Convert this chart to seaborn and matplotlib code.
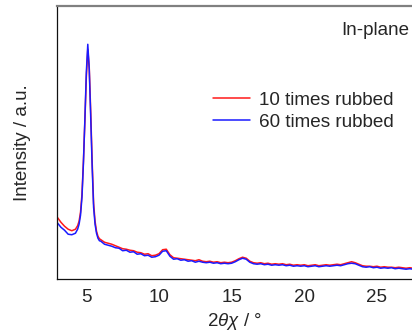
import numpy as np
import pandas as pd
import matplotlib
matplotlib.use("Agg")
import matplotlib.pyplot as plt
import seaborn as sns

# 2theta positions: dense around the main peak, then a regular 0.25 deg grid
two_theta_head = [3.0, 3.25, 3.5, 3.75, 4.0, 4.25, 4.4, 4.5, 4.6, 4.7, 4.8,
                  4.9, 5.0, 5.1, 5.2, 5.3, 5.4, 5.5, 5.6, 5.7, 5.8, 5.9]
two_theta_tail = list(np.arange(6.0, 27.51, 0.25))

rub10_head = [62, 57, 53, 50, 48.5, 50, 53.5, 58, 67, 85, 118,
              158, 202, 230, 212, 168, 118, 76, 58, 48, 43, 40.5]
rub60_head = [56.5, 52, 49, 45, 44.5, 46, 50, 55, 64, 82, 116,
              160, 207, 235, 210, 163, 113, 72, 55, 46, 41, 38.5]

# one row per degree (6 .. 26), then 27.0-27.5
rub10_tail = [39.5, 37, 36, 35,
              33.5, 32, 30.5, 30,
              29, 28.5, 27, 26.5,
              25, 25.5, 23.5, 24,
              25.5, 29.5, 30, 24.5,
              21.5, 21, 20.5, 20,
              19.5, 19, 18.5, 19.5,
              18, 17.5, 18, 17,
              17.5, 16.5, 17, 16.5,
              17, 18.5, 20.5, 22,
              21, 18, 16.5, 16,
              16.5, 15.5, 16, 15,
              15.5, 15, 15.5, 14.5,
              15, 14, 14.5, 14,
              14.5, 13.5, 14, 14.5,
              13.5, 14, 14.5, 14,
              14.5, 15, 14.5, 15.5,
              16.5, 17.5, 16.5, 15,
              13.5, 13, 13, 12.5,
              13, 12, 12.5, 12,
              12, 11.5, 12, 11.5,
              11, 11.5, 11]
rub60_tail = [38, 35, 34, 33,
              31.5, 31, 28.5, 29,
              27, 27.5, 25, 25.5,
              23.5, 24, 22, 22.5,
              24, 28, 28.5, 23,
              20, 20.5, 19, 19.5,
              18, 18.5, 17, 18,
              17, 16.5, 17, 16,
              16.5, 15.5, 16, 15.5,
              16, 17.5, 19.5, 21,
              20, 17, 15.5, 15,
              15.5, 14.5, 15, 14,
              14.5, 14, 14.5, 13.5,
              14, 13, 13.5, 13,
              13.5, 12.5, 13, 13.5,
              12.5, 13, 13.5, 13,
              13.5, 14, 13.5, 14.5,
              15.5, 16, 15.5, 14,
              12.5, 12, 12.5, 11.5,
              12, 11, 11.5, 11,
              11.5, 10.5, 11, 10.5,
              10, 10.5, 10]

series_labels = ["10 times rubbed", "60 times rubbed"]
series_colors = ["#ff1a1a", "#1a1aff"]

two_theta = two_theta_head + two_theta_tail
df = pd.concat([
    pd.DataFrame({"two_theta": two_theta, "intensity": rub10_head + rub10_tail,
                  "sample": series_labels[0]}),
    pd.DataFrame({"two_theta": two_theta, "intensity": rub60_head + rub60_tail,
                  "sample": series_labels[1]}),
], ignore_index=True)

sns.set_style("white")
plt.rcParams["font.family"] = ["Liberation Sans", "DejaVu Sans"]
plt.rcParams["mathtext.fontset"] = "custom"
plt.rcParams["mathtext.rm"] = "Liberation Sans"
plt.rcParams["mathtext.it"] = "Liberation Sans:italic"

fig = plt.figure(figsize=(4.12, 3.36), dpi=100)
ax = fig.add_axes([0.139, 0.169, 0.861, 0.814])

sns.lineplot(data=df, x="two_theta", y="intensity", hue="sample",
             palette=dict(zip(series_labels, series_colors)),
             estimator=None, sort=False, linewidth=1.1, ax=ax)

ax.set_xlim(3, 27.41)
ax.set_ylim(0, 273.6)
ax.set_xticks([5, 10, 15, 20, 25])
ax.set_yticks([])
ax.tick_params(axis="x", direction="in", length=5, width=0.8, color="#333333",
               labelsize=13.5, pad=7)

for side in ["left", "bottom"]:
    ax.spines[side].set_color("#111111")
    ax.spines[side].set_linewidth(0.9)
ax.spines["top"].set_color("#808080")
ax.spines["top"].set_linewidth(1.6)
ax.spines["right"].set_visible(False)

ax.set_xlabel(r"2$\theta\chi$ / °", fontsize=13.5, labelpad=4)
ax.set_ylabel("Intensity / a.u.", fontsize=13.5, labelpad=19)

ax.text(0.80, 0.91, "In-plane", transform=ax.transAxes, fontsize=13.5,
        ha="left", va="center")

ax.legend(loc="upper left", bbox_to_anchor=(0.439, 0.685), frameon=False,
          fontsize=13.6, handlelength=1.95, handletextpad=0.5,
          labelspacing=0.25, borderpad=0, borderaxespad=0, title=None)

fig.savefig("out.png", dpi=100)
